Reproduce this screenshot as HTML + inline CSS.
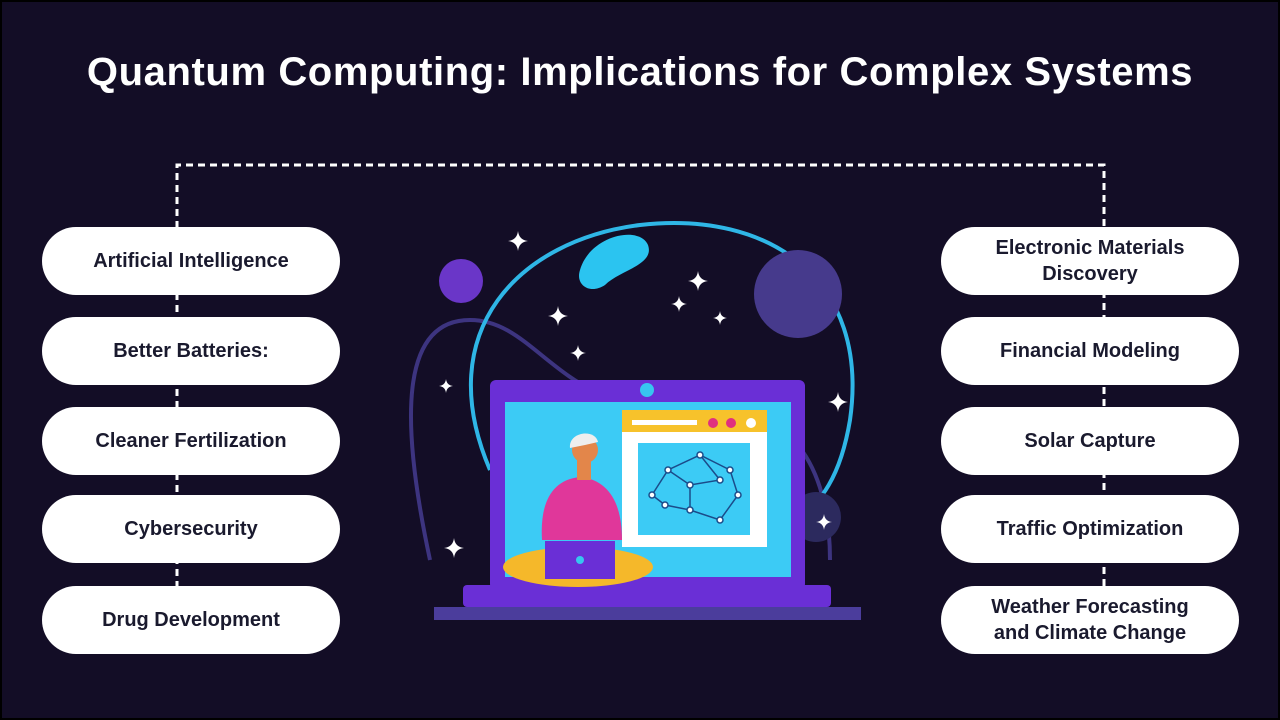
<!DOCTYPE html>
<html><head><meta charset="utf-8"><style>
body{margin:0;width:1280px;height:720px;overflow:hidden;background:#000;}
#c{position:absolute;left:2px;top:2px;width:1276px;height:716px;background:#130d26;}
h1{position:absolute;left:0;top:50px;width:1280px;margin:0;text-align:center;color:#fff;font:bold 40px "Liberation Sans",sans-serif;letter-spacing:0.6px;}
.p{position:absolute;width:298px;height:68px;border-radius:34px;background:#fff;display:flex;align-items:center;justify-content:center;text-align:center;font:bold 20px/26px "Liberation Sans",sans-serif;color:#1a1a2e;}
</style></head><body><div id="c"></div>
<h1>Quantum Computing: Implications for Complex Systems</h1>
<svg width="1280" height="720" style="position:absolute;left:0;top:0">
<path d="M177 600 V165 H1104 V600" fill="none" stroke="#fff" stroke-width="3" stroke-dasharray="7 5"/>
<g>
<path d="M430 560 C400 420 400 320 470 320 C540 320 560 420 700 410 C800 400 830 480 830 560" fill="none" stroke="#3d3480" stroke-width="4"/>
<path d="M490 470 C430 330 520 240 640 225 C770 210 870 280 850 420 C840 480 820 500 800 520" fill="none" stroke="#2fb6e6" stroke-width="4"/>
<circle cx="461" cy="281" r="22" fill="#6a36c8"/>
<circle cx="798" cy="294" r="44" fill="#463a8c"/>
<circle cx="816" cy="517" r="25" fill="#2c2a5e"/>
<path d="M580 270 C590 235 640 225 648 245 C655 265 620 270 605 285 C590 295 575 285 580 270Z" fill="#2bc4f0"/>
<rect x="490" y="380" width="315" height="210" rx="6" fill="#6a2fd6"/>
<rect x="505" y="402" width="286" height="175" fill="#3ccbf5"/>
<circle cx="647" cy="390" r="7" fill="#37c5f0"/>
<rect x="622" y="410" width="145" height="25" fill="#f7c22b"/>
<rect x="622" y="432" width="145" height="115" fill="#fff"/>
<rect x="638" y="443" width="112" height="92" fill="#3ccbf5"/>
<rect x="632" y="420" width="65" height="5" fill="#fff"/>
<circle cx="713" cy="423" r="5" fill="#e0307f"/><circle cx="731" cy="423" r="5" fill="#e0307f"/><circle cx="751" cy="423" r="5" fill="#fff"/>
<g stroke="#1b4c8a" stroke-width="1.5" fill="#fff"><path d="M652 495 L668 470 L700 455 L730 470 L738 495 L720 520 L690 510 L665 505Z M668 470 L690 485 L720 480 L700 455 M690 485 L690 510" fill="none"/>
<circle cx="652" cy="495" r="3"/><circle cx="668" cy="470" r="3"/><circle cx="700" cy="455" r="3"/><circle cx="730" cy="470" r="3"/><circle cx="738" cy="495" r="3"/><circle cx="720" cy="520" r="3"/><circle cx="690" cy="510" r="3"/><circle cx="665" cy="505" r="3"/><circle cx="690" cy="485" r="3"/><circle cx="720" cy="480" r="3"/></g>
<rect x="463" y="585" width="368" height="22" rx="4" fill="#6a2fd6"/>
<rect x="434" y="607" width="427" height="13" fill="#4b3d9c"/>
<ellipse cx="578" cy="567" rx="75" ry="20" fill="#f5b82a"/>
<path d="M542 540 C540 505 550 480 580 477 C610 480 622 505 622 540Z" fill="#e0379a"/>
<rect x="577" y="458" width="14" height="22" fill="#e3864a"/>
<circle cx="585" cy="450" r="13" fill="#e3864a"/><path d="M570 448 C568 432 595 428 598 442 L585 445Z" fill="#eee"/>
<rect x="545" y="541" width="70" height="38" fill="#6a2fd6"/>
<circle cx="580" cy="560" r="4" fill="#37c5f0"/>
</g>
<g fill="#fff">
<path d="M0 -10 Q1 -1 10 0 Q1 1 0 10 Q-1 1 -10 0 Q-1 -1 0 -10Z" transform="translate(518,241)"/>
<path d="M0 -10 Q1 -1 10 0 Q1 1 0 10 Q-1 1 -10 0 Q-1 -1 0 -10Z" transform="translate(698,281)"/>
<path d="M0 -10 Q1 -1 10 0 Q1 1 0 10 Q-1 1 -10 0 Q-1 -1 0 -10Z" transform="translate(679,304) scale(.8)"/>
<path d="M0 -10 Q1 -1 10 0 Q1 1 0 10 Q-1 1 -10 0 Q-1 -1 0 -10Z" transform="translate(720,318) scale(.7)"/>
<path d="M0 -10 Q1 -1 10 0 Q1 1 0 10 Q-1 1 -10 0 Q-1 -1 0 -10Z" transform="translate(558,316)"/>
<path d="M0 -10 Q1 -1 10 0 Q1 1 0 10 Q-1 1 -10 0 Q-1 -1 0 -10Z" transform="translate(578,353) scale(.8)"/>
<path d="M0 -10 Q1 -1 10 0 Q1 1 0 10 Q-1 1 -10 0 Q-1 -1 0 -10Z" transform="translate(446,386) scale(.7)"/>
<path d="M0 -10 Q1 -1 10 0 Q1 1 0 10 Q-1 1 -10 0 Q-1 -1 0 -10Z" transform="translate(838,402)"/>
<path d="M0 -10 Q1 -1 10 0 Q1 1 0 10 Q-1 1 -10 0 Q-1 -1 0 -10Z" transform="translate(824,522) scale(.8)"/>
<path d="M0 -10 Q1 -1 10 0 Q1 1 0 10 Q-1 1 -10 0 Q-1 -1 0 -10Z" transform="translate(454,548)"/>
</g>
</svg>
<div class="p" style="left:42px;top:227px">Artificial Intelligence</div>
<div class="p" style="left:42px;top:317px">Better Batteries:</div>
<div class="p" style="left:42px;top:407px">Cleaner Fertilization</div>
<div class="p" style="left:42px;top:495px">Cybersecurity</div>
<div class="p" style="left:42px;top:586px">Drug Development</div>
<div class="p" style="left:941px;top:227px">Electronic Materials<br>Discovery</div>
<div class="p" style="left:941px;top:317px">Financial Modeling</div>
<div class="p" style="left:941px;top:407px">Solar Capture</div>
<div class="p" style="left:941px;top:495px">Traffic Optimization</div>
<div class="p" style="left:941px;top:586px">Weather Forecasting<br>and Climate Change</div>
</body></html>
